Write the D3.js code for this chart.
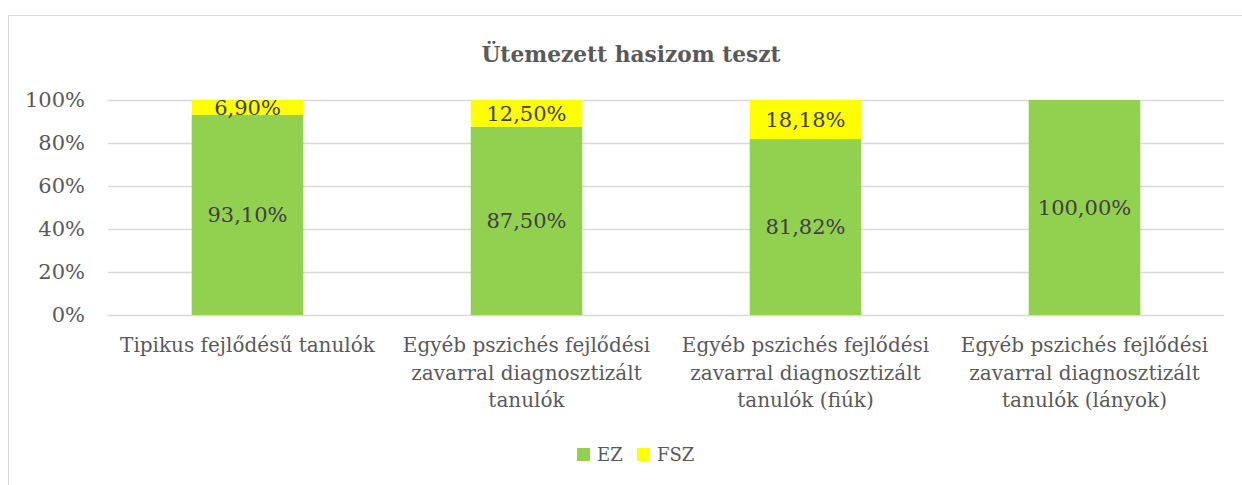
<!DOCTYPE html>
<html>
<head>
<meta charset="utf-8">
<script src="https://cdn.jsdelivr.net/npm/d3@7"></script>
<style>
	body { margin: 0; background: #fff; }
	text { font-family: "DejaVu Serif", serif; }
</style>
</head>
<body>
<div id="container"></div>
<script>
const categories=[
	["Tipikus fejlődésű tanulók"],
	["Egyéb pszichés fejlődési", "zavarral diagnosztizált", "tanulók"],
	["Egyéb pszichés fejlődési", "zavarral diagnosztizált", "tanulók (fiúk)"],
	["Egyéb pszichés fejlődési", "zavarral diagnosztizált", "tanulók (lányok)"]
];
const ezValues=[93.10, 87.50, 81.82, 100.00];
const fszValues=[6.90, 12.50, 18.18, 0];
const seriesNames=["EZ", "FSZ"];
const seriesColors=["#92d050", "#ffff00"];
const yTicks=[0, 20, 40, 60, 80, 100];

const w=1242;
const h=485;
const margin={top:100, left:108, bottom:170, right:18};
const graphWidth=w-margin.left-margin.right;
const graphHeight=h-margin.top-margin.bottom;

const svg=d3.select("#container").append("svg").attr("width", w).attr("height", h);

// chart frame
svg.append("rect")
	.attr("x", 8.5).attr("y", 15.5)
	.attr("width", w).attr("height", h)
	.attr("fill", "none").attr("stroke", "#d9d9d9");

const graph=svg.append("g").attr("transform", `translate(${margin.left}, ${margin.top})`);

const xScale=d3.scaleBand()
	.domain(d3.range(categories.length))
	.range([0, graphWidth])
	.paddingInner(0.6)
	.paddingOuter(0.3);

const yScale=d3.scaleLinear().domain([0, 100]).range([graphHeight, 0]);

// gridlines
graph.append("g")
	.selectAll("line")
	.data(yTicks)
	.enter()
	.append("line")
		.attr("x1", 0)
		.attr("x2", graphWidth)
		.attr("y1", d => Math.round(yScale(d))+0.5)
		.attr("y2", d => Math.round(yScale(d))+0.5)
		.attr("stroke", "#d9d9d9")
		.attr("stroke-width", 1.3);

const yAxis=d3.axisLeft(yScale).tickValues(yTicks).tickFormat(d => d+"%").tickSize(0).tickPadding(23);
const yAxisGroup=graph.append("g").call(yAxis);
yAxisGroup.select(".domain").remove();
yAxisGroup.selectAll("text")
	.style("font-family", "'DejaVu Serif', serif")
	.style("font-size", "21px")
	.attr("fill", "#595959");

// stacked data
const stackData=ezValues.map((v, i) => ({EZ: v, FSZ: fszValues[i], i: i}));
const stacked=d3.stack().keys(seriesNames)(stackData);

const layers=graph.selectAll(".layer")
	.data(stacked)
	.enter()
	.append("g")
		.attr("class", "layer")
		.attr("fill", (d, i) => seriesColors[i]);

layers.selectAll("rect")
	.data(d => d.filter(s => s[1]-s[0] > 0))
	.enter()
	.append("rect")
		.attr("x", d => xScale(d.data.i))
		.attr("y", d => yScale(d[1]))
		.attr("width", xScale.bandwidth())
		.attr("height", d => yScale(d[0])-yScale(d[1]));

const fmt=v => v.toFixed(2).replace(".", ",")+"%";

layers.selectAll("text")
	.data(d => d.filter(s => s[1]-s[0] > 0))
	.enter()
	.append("text")
		.attr("x", d => xScale(d.data.i)+xScale.bandwidth()/2)
		.attr("y", d => (yScale(d[0])+yScale(d[1]))/2)
		.attr("dy", "0.35em")
		.attr("text-anchor", "middle")
		.attr("fill", "#404040")
		.style("font-size", "21px")
		.text(d => fmt(d[1]-d[0]));

// category labels
const xLabels=graph.append("g").attr("transform", `translate(0, ${graphHeight})`);
categories.forEach((lines, i) => {
	const t=xLabels.append("text")
		.attr("x", xScale(i)+xScale.bandwidth()/2)
		.attr("y", 30)
		.attr("text-anchor", "middle")
		.attr("fill", "#595959")
		.style("font-size", "20px");
	lines.forEach((l, j) => {
		t.append("tspan")
			.attr("x", xScale(i)+xScale.bandwidth()/2)
			.attr("dy", j === 0 ? "0.35em" : 27.5)
			.text(l);
	});
});

// title
svg.append("text")
	.attr("x", 631)
	.attr("y", 54)
	.attr("dy", "0.35em")
	.attr("text-anchor", "middle")
	.attr("fill", "#595959")
	.style("font-size", "21.7px")
	.style("font-weight", "bold")
	.text("Ütemezett hasizom teszt");

// legend
const legend=svg.append("g").attr("transform", "translate(577, 448)");
const legendX=[0, 60];
seriesNames.forEach((name, i) => {
	legend.append("rect")
		.attr("x", legendX[i])
		.attr("y", 0)
		.attr("width", 13)
		.attr("height", 13)
		.attr("fill", seriesColors[i]);
	legend.append("text")
		.attr("x", legendX[i]+20)
		.attr("y", 7)
		.attr("dy", "0.35em")
		.attr("fill", "#595959")
		.style("font-size", "18px")
		.text(name);
});
</script>
</body>
</html>
